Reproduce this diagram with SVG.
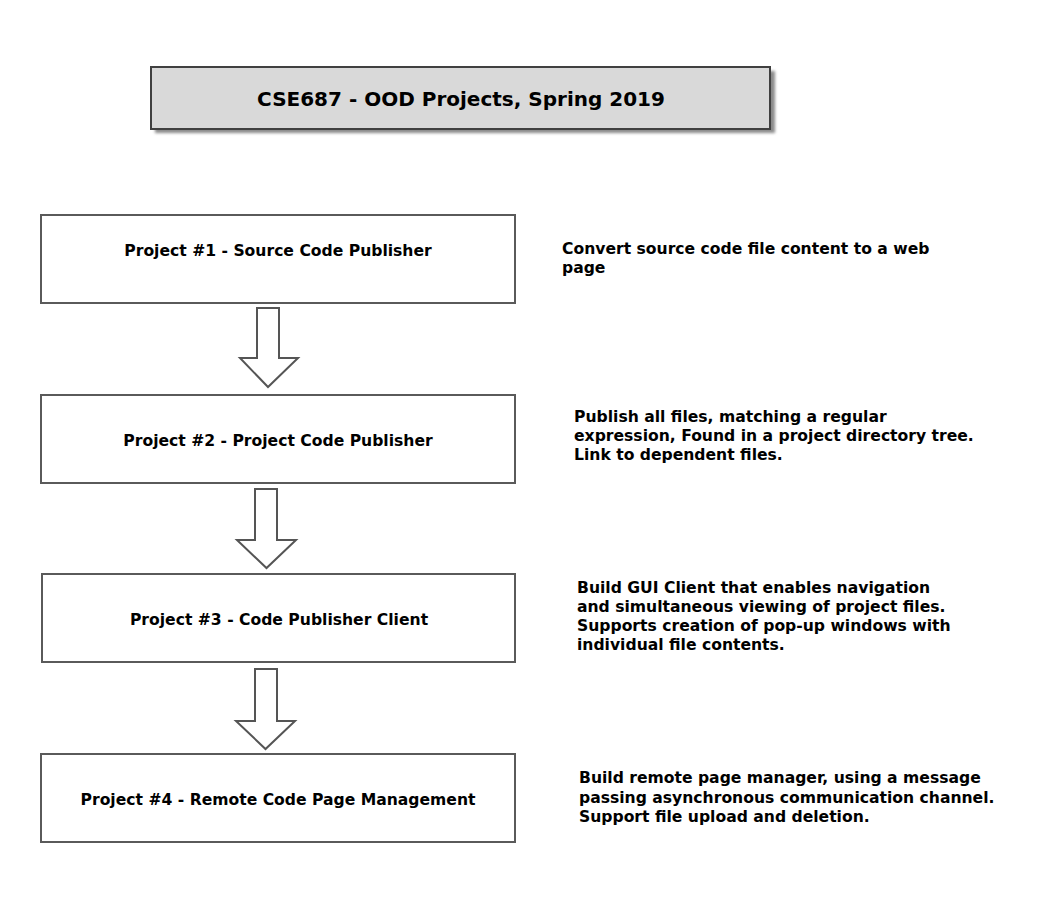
<svg xmlns="http://www.w3.org/2000/svg" width="1039" height="912" viewBox="0 0 1039 912">
  <defs>
    <filter id="soft" x="-5%" y="-20%" width="110%" height="140%">
      <feGaussianBlur stdDeviation="1.5"/>
    </filter>
    <style>
      .box { fill: #ffffff; stroke: #5a5a5a; stroke-width: 2; }
      .title-box { fill: #d9d9d9; stroke: #404040; stroke-width: 2; }
      .shadow { fill: #8a8a8a; }
      .arrow { fill: #ffffff; stroke: #555555; stroke-width: 2; stroke-linejoin: miter; }
      .lbl { font-family: "DejaVu Sans", Verdana, sans-serif; font-weight: bold; font-size: 15.6px; fill: #000000; }
      .title { font-family: "DejaVu Sans", Verdana, sans-serif; font-weight: bold; font-size: 20px; fill: #000000; }
    </style>
  </defs>

  <rect width="1039" height="912" fill="#ffffff"/>

  <g id="title">
    <rect class="shadow" x="155" y="71" width="620" height="62" filter="url(#soft)"/>
    <rect class="title-box" x="151" y="67" width="619" height="62"/>
    <text class="title" x="461" y="106" text-anchor="middle">CSE687 - OOD Projects, Spring 2019</text>
  </g>

  <g id="connectors">
    <polygon class="arrow" points="257,308 279,308 279,358 298,358 268,387 240,358 257,358"/>
    <polygon class="arrow" points="255,489 277,489 277,540 296,540 266.5,568 237,540 255,540"/>
    <polygon class="arrow" points="255,669 277,669 277,721 295,721 265.5,749 236,721 255,721"/>
  </g>

  <g id="project1">
    <rect class="box" x="41" y="215" width="474" height="88"/>
    <text class="lbl" x="278" y="256" text-anchor="middle">Project #1 - Source Code Publisher</text>
  </g>

  <g id="project2">
    <rect class="box" x="41" y="395" width="474" height="88"/>
    <text class="lbl" x="278" y="446" text-anchor="middle">Project #2 - Project Code Publisher</text>
  </g>

  <g id="project3">
    <rect class="box" x="42" y="574" width="473" height="88"/>
    <text class="lbl" x="279" y="625" text-anchor="middle">Project #3 - Code Publisher Client</text>
  </g>

  <g id="project4">
    <rect class="box" x="41" y="754" width="474" height="88"/>
    <text class="lbl" x="278" y="805" text-anchor="middle">Project #4 - Remote Code Page Management</text>
  </g>

  <g id="desc1">
    <text class="lbl" x="562" y="254">Convert source code file content to a web</text>
    <text class="lbl" x="562" y="273">page</text>
  </g>

  <g id="desc2">
    <text class="lbl" x="574" y="422">Publish all files, matching a regular</text>
    <text class="lbl" x="574" y="441">expression, Found in a project directory tree.</text>
    <text class="lbl" x="574" y="460">Link to dependent files.</text>
  </g>

  <g id="desc3">
    <text class="lbl" x="577" y="593">Build GUI Client that enables navigation</text>
    <text class="lbl" x="577" y="612">and simultaneous viewing of project files.</text>
    <text class="lbl" x="577" y="631">Supports creation of pop-up windows with</text>
    <text class="lbl" x="577" y="650">individual file contents.</text>
  </g>

  <g id="desc4">
    <text class="lbl" x="579" y="783">Build remote page manager, using a message</text>
    <text class="lbl" x="579" y="803">passing asynchronous communication channel.</text>
    <text class="lbl" x="579" y="822">Support file upload and deletion.</text>
  </g>
</svg>
